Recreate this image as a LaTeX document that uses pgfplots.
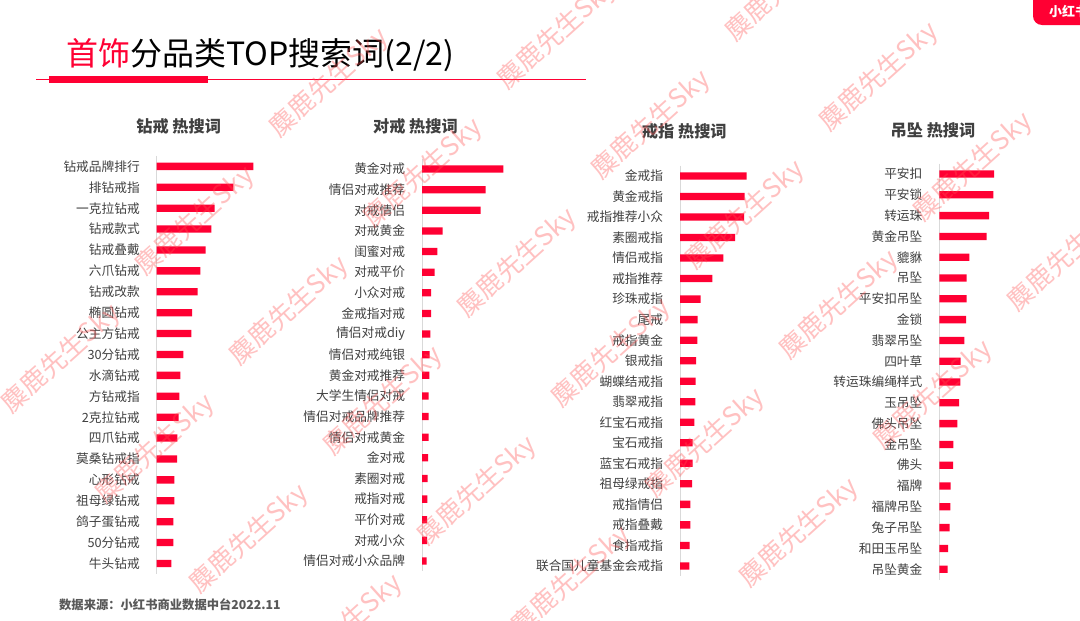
\documentclass[border=0pt]{standalone}
\usepackage{fontspec}
\setmainfont{Noto Sans CJK SC}
\usepackage{pgfplots}
\pgfplotsset{compat=1.18}
\definecolor{barred}{RGB}{255,0,51}
\definecolor{lbl}{RGB}{64,64,64}
\definecolor{axgray}{RGB}{217,217,217}
\definecolor{wm}{RGB}{255,80,80}
\definecolor{src}{RGB}{89,89,89}

\pgfplotsset{panel/.style={anchor=north west, scale only axis, width=110bp,
  xmin=0, xmax=110, ymin=0.5, ymax=20.5, y dir=reverse,
  axis x line=none, axis y line=left,
  axis line style={-, draw=axgray, line width=0.8bp},
  ytick={1,...,20}, ytick style={draw=none},
  yticklabel style={font=\fontsize{12.7bp}{12.7bp}\selectfont, text=lbl, anchor=east, inner sep=0pt, xshift=-12.5bp},
  xbar, bar width=7.3bp, clip=false}}

\begin{document}
\begin{tikzpicture}
\path[use as bounding box] (0,0) rectangle (1080bp,-621bp);
\fill[white] (0,0) rectangle (1080bp,-621bp);

% title
\node[anchor=base west, inner sep=0pt, font=\fontsize{32bp}{32bp}\selectfont] at (66bp,-65.5bp)
  {\textcolor{barred}{首饰}\textcolor{black}{分品类TOP搜索词(2/2)}};
\draw[barred, line width=0.8bp] (36bp,-79.3bp) -- (586bp,-79.3bp);
\fill[barred] (49.3bp,-76bp) rectangle (207.7bp,-82.7bp);

% logo
\fill[barred, rounded corners=9bp] (1033bp,8bp) rectangle (1100bp,-25bp);
\node[anchor=west, inner sep=0pt, text=white, font=\bfseries\fontsize{13bp}{13bp}\selectfont] at (1049bp,-12bp) {小红书};

% panel titles
\begin{scope}[every node/.style={inner sep=0pt, text=lbl, font=\bfseries\fontsize{16.2bp}{16.2bp}\selectfont}]
\node at (178.7bp,-126bp) {钻戒 热搜词};
\node at (415.5bp,-126bp) {对戒 热搜词};
\node at (684.3bp,-131bp) {戒指 热搜词};
\node at (933bp,-130.5bp) {吊坠 热搜词};
\end{scope}

% panel 1
\begin{axis}[panel, at={(156.7bp,-155.9bp)}, height=418bp,
  yticklabels={钻戒品牌排行,排钻戒指,一克拉钻戒,钻戒款式,钻戒叠戴,六爪钻戒,钻戒改款,椭圆钻戒,公主方钻戒,30分钻戒,水滴钻戒,方钻戒指,2克拉钻戒,四爪钻戒,莫桑钻戒指,心形钻戒,祖母绿钻戒,鸽子蛋钻戒,50分钻戒,牛头钻戒}]
\addplot[fill=barred, draw=none] coordinates {(96.6,1) (76.6,2) (58,3) (54.6,4) (49,5) (43.6,6) (41,7) (35.3,8) (34.6,9) (26.6,10) (23.6,11) (22.6,12) (22,13) (20.6,14) (20.3,15) (17.6,16) (17.6,17) (16.6,18) (16.6,19) (14.6,20)};
\end{axis}

% panel 2
\begin{axis}[panel, at={(422bp,-158.7bp)}, height=412.6bp,
  yticklabels={黄金对戒,情侣对戒推荐,对戒情侣,对戒黄金,闺蜜对戒,对戒平价,小众对戒,金戒指对戒,情侣对戒diy,情侣对戒纯银,黄金对戒推荐,大学生情侣对戒,情侣对戒品牌推荐,情侣对戒黄金,金对戒,素圈对戒,戒指对戒,平价对戒,对戒小众,情侣对戒小众品牌}]
\addplot[fill=barred, draw=none] coordinates {(81.3,1) (63.7,2) (58.7,3) (20.7,4) (15.3,5) (12.7,6) (9,7) (9,8) (8.3,9) (7.7,10) (7.3,11) (6.7,12) (6.7,13) (6.7,14) (6,15) (5.7,16) (5.3,17) (5,18) (5,19) (4.7,20)};
\end{axis}

% panel 3
\begin{axis}[panel, at={(680bp,-165.7bp)}, height=410.5bp,
  yticklabels={金戒指,黄金戒指,戒指推荐小众,素圈戒指,情侣戒指,戒指推荐,珍珠戒指,尾戒,戒指黄金,银戒指,蝴蝶结戒指,翡翠戒指,红宝石戒指,宝石戒指,蓝宝石戒指,祖母绿戒指,戒指情侣,戒指叠戴,食指戒指,联合国儿童基金会戒指}]
\addplot[fill=barred, draw=none] coordinates {(66.7,1) (64.7,2) (64,3) (55,4) (43.3,5) (32.3,6) (20.7,7) (17.7,8) (17.3,9) (16,10) (15.7,11) (15.3,12) (14.3,13) (12.7,14) (12.7,15) (12,16) (10.3,17) (10.3,18) (9.7,19) (9.3,20)};
\end{axis}

% panel 4
\begin{axis}[panel, at={(939.3bp,-163.6bp)}, height=416bp,
  yticklabels={平安扣,平安锁,转运珠,黄金吊坠,貔貅,吊坠,平安扣吊坠,金锁,翡翠吊坠,四叶草,转运珠编绳样式,玉吊坠,佛头吊坠,金吊坠,佛头,福牌,福牌吊坠,兔子吊坠,和田玉吊坠,吊坠黄金}]
\addplot[fill=barred, draw=none] coordinates {(54.7,1) (54,2) (49.7,3) (47.3,4) (30,5) (27.3,6) (27.3,7) (26.7,8) (25,9) (21.3,10) (21,11) (19.7,12) (18,13) (14,14) (13.7,15) (11.3,16) (11,17) (10.3,18) (8.7,19) (8.3,20)};
\end{axis}

% source
\node[anchor=west, inner sep=0pt, text=src, font=\bfseries\fontsize{12.3bp}{12.3bp}\selectfont] at (59bp,-605bp) {数据来源：小红书商业数据中台2022.11};

% watermarks
\foreach \wx/\wy in {329/83,557/35,785/-13,879/77,651/125,423/173,195/221,973/167,745/215,517/263,289/311,61/359,1067/257,839/305,611/353,383/401,155/449,933/395,705/443,477/491,249/539,799/533,571/581,343/629}
  \node[rotate=42, text=wm, opacity=0.35, inner sep=0pt, font=\fontsize{26bp}{26bp}\selectfont] at (\wx bp,-\wy bp) {麋鹿先生Sky};
\end{tikzpicture}
\end{document}
